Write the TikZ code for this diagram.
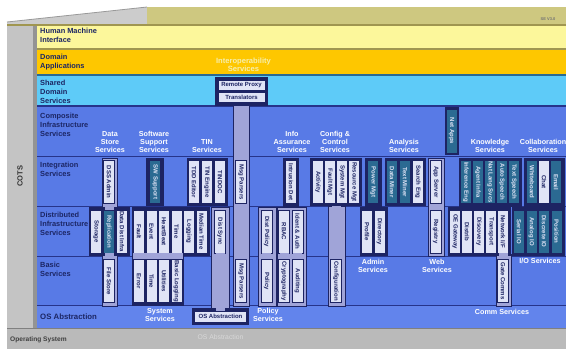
\documentclass[tikz,border=0pt]{standalone}
\usepackage{fontspec}
\setmainfont{Liberation Sans}
\usepackage{tikz}
\usetikzlibrary{positioning}
\definecolor{layerblue}{RGB}{88,122,230}
\definecolor{osblue}{RGB}{98,132,236}
\definecolor{sharedblue}{RGB}{94,203,248}
\definecolor{domgold}{RGB}{254,199,0}
\definecolor{hmiyellow}{RGB}{252,247,155}
\definecolor{roofkhaki}{RGB}{206,200,128}
\definecolor{khakidark}{RGB}{160,150,80}
\definecolor{cotsgray}{RGB}{196,196,196}
\definecolor{osgray}{RGB}{186,186,186}
\definecolor{framenavy}{RGB}{29,36,99}
\definecolor{sepnavy}{RGB}{38,52,138}
\definecolor{slotlight}{RGB}{224,228,246}
\definecolor{slotteal}{RGB}{43,106,146}
\definecolor{spinelav}{RGB}{160,164,216}
\definecolor{labelnavy}{RGB}{28,38,100}
\definecolor{interopyel}{RGB}{246,238,170}
\tikzset{
  laylabel/.style={anchor=north west, inner sep=0, align=left, text=labelnavy,
    font=\fontsize{7.4}{9}\selectfont\bfseries},
  grplabel/.style={inner sep=0, align=center, text=white,
    font=\fontsize{7.2}{8}\selectfont\bfseries},
  grp/.style={rectangle, fill=framenavy, anchor=north west, inner sep=0},
  colgrp/.style={rectangle, fill=spinelav, draw=framenavy, line width=1.2pt,
    anchor=north west, inner sep=0},
  slotbase/.style={rectangle, fill=slotlight, draw=framenavy, line width=0.5pt,
    inner sep=0, text=framenavy, font=\fontsize{6}{6}\selectfont\bfseries},
  slot/.style={slotbase, rotate=-90, minimum width=43, minimum height=11},
  tslot/.style={slot, fill=slotteal, text=slotlight},
  hslot/.style={slotbase, minimum width=47, minimum height=10},
  spine/.style={draw=spinelav, line width=9pt}
}
\begin{document}
\begin{tikzpicture}[x=1pt, y=-1pt]
  \useasboundingbox (0,0) rectangle (569,349);
  % roof
  \fill[black!20] (7,25) -- (7,22) -- (147,7) -- (147,25) -- cycle;
  \fill[roofkhaki] (147,7) rectangle (566,25);
  \draw[black!40, line width=0.8pt] (7,22) -- (147,7);
  \draw[khakidark, line width=1.2pt] (7,25) -- (566,25);
  \node[font=\fontsize{4}{4}\selectfont\bfseries, text=black!55] (version) at (548,19) {SE V3.0};
  % COTS column
  \fill[cotsgray] (7,25.6) rectangle (33,328);
  \fill[black!42] (33,25.6) rectangle (37,328);
  \node[rotate=90, font=\fontsize{7.5}{8}\selectfont\bfseries, text=black!80] (cots) at (20,176) {COTS};
  % layers
  \fill[hmiyellow] (37,25.6) rectangle (566,48);
  \fill[khakidark] (37,48) rectangle (566,50);
  \fill[domgold] (37,50) rectangle (566,74);
  \fill[slotteal] (37,74) rectangle (566,75.5);
  \fill[sharedblue] (37,75.5) rectangle (566,105);
  \fill[sepnavy] (37,105) rectangle (566,107);
  \fill[layerblue] (37,107) rectangle (566,305);
  \fill[osblue] (37,305) rectangle (566,328);
  \foreach \yy in {156.5,206.5,256.5,305.5}
    \draw[sepnavy, line width=1.5pt] (37,\yy) -- (566,\yy);
  % operating system
  \fill[osgray] (7,328) rectangle (566,349);
  \draw[black!50, line width=1pt] (7,328) -- (566,328);
  \node[anchor=north west, inner sep=0, text=black!75, font=\fontsize{6.6}{7}\selectfont\bfseries]
    (oslbl) at (10,336.5) {Operating System};
  \node[anchor=north, inner sep=0, text=black!15, font=\fontsize{6.8}{7}\selectfont]
    (osabslbl) at (220.5,334.5) {OS Abstraction};
  % layer names
  \node[laylabel] (hmi) at (40,28) {Human Machine\\Interface};
  \node[laylabel] (domapps) at (40,53.5) {Domain\\Applications};
  \node[laylabel] (shared) at (40,80) {Shared\\Domain\\Services};
  \node[laylabel] (composite) at (40,112.5) {Composite\\Infrastructure\\Services};
  \node[laylabel] (integ) at (40,162) {Integration\\Services};
  \node[laylabel] (distinfra) at (40,212) {Distributed\\Infrastructure\\Services};
  \node[laylabel] (basic) at (40,262) {Basic\\Services};
  \node[laylabel, font=\fontsize{7.8}{9}\selectfont\bfseries] (osabs0) at (40,313.5) {OS Abstraction};

  % frames
  \node[colgrp, minimum width=15, minimum height=148] (dsscol) at (101.5,158) {};
  \node[grp, minimum width=18, minimum height=48] (swsgrp) at (146,158) {};
  \node[grp, minimum width=41, minimum height=48] (tingrp) at (186.5,158) {};
  \node[colgrp, minimum width=16, minimum height=201] (msgcol) at (233,105) {};
  \node[grp, minimum width=53, minimum height=29] (interop) at (215,77) {};
  \node[grp, minimum width=16, minimum height=49] (iagrp) at (283,158) {};
  \node[grp, minimum width=52, minimum height=48] (ccgrp) at (310,158) {};
  \node[colgrp, minimum width=17, minimum height=100] (cfgcol) at (327.5,206) {};
  \node[grp, minimum width=16.5, minimum height=49] (pmgrp) at (365,158) {};
  \node[grp, minimum width=41, minimum height=48] (angrp) at (384.5,158) {};
  \node[colgrp, minimum width=16.5, minimum height=98] (appcol) at (427.5,158) {};
  \node[grp, minimum width=14, minimum height=48] (netgrp) at (444.5,107) {};
  \node[grp, minimum width=63, minimum height=49] (kngrp) at (458.5,158) {};
  \node[grp, minimum width=41, minimum height=49] (cogrp) at (523.5,158) {};
  \node[grp, minimum width=41, minimum height=49] (dsgrp) at (88.5,207) {};
  \node[grp, minimum width=78, minimum height=49] (ssgrpa) at (131.5,207) {};
  \node[grp, minimum width=52.5, minimum height=52] (ssgrpb) at (131.5,254) {};
  \node[colgrp, minimum width=18, minimum height=102] (dscol) at (211,207) {};
  \node[grp, minimum width=57, minimum height=17] (osbox) at (192,308) {};
  \node[colgrp, minimum width=17.5, minimum height=99] (polcol) at (258,207) {};
  \node[colgrp, minimum width=29, minimum height=99] (idgrp) at (276.5,207) {};
  \node[grp, minimum width=28, minimum height=49] (admgrp) at (359.5,207) {};
  \node[colgrp, minimum width=15, minimum height=52] (cmcol) at (495.5,254) {};
  \node[grp, minimum width=63, minimum height=49] (cmgrp) at (447.5,207) {};
  \node[grp, minimum width=53, minimum height=49] (iogrp) at (511.5,207) {};

  % integration row
  \foreach \nm/\x/\lbl/\sty in {dssadmin/109/{DSS Admin}/slot, swsupport/155/{SW Support}/tslot,
      tdd/194/{TDD Editor}/slot, tineng/207/{TIN Engine}/slot, tindoc/220/TINDOC/slot,
      msga/241/{Msg Parsers}/slot, intrusion/291/{Intrusion Det}/slot,
      activity/318/Activity/slot, faultmgt/330/{Fault Mgt}/slot, sysmgt/342/{System Mgt}/slot,
      resmgt/354/{Resource Mgt}/slot, powermgt/373/{Power Mgt}/tslot,
      dataminer/392/{Data Miner}/tslot, textminer/405/{Text Miner}/tslot, searcheng/418/{Search Eng}/slot,
      appserver/435.75/{App Server}/slot,
      inference/466/{Inference Eng}/tslot, agent/478/{Agent Infra}/tslot, natlang/490/{Nat Lang Svcs}/tslot,
      autospeech/502/{Auto Speech}/tslot, textspeech/514/{Text Speech}/tslot,
      whiteboard/532/Whiteboard/tslot, chat/544/Chat/slot, email/556/Email/tslot}
    \node[\sty] (\nm) at (\x,182) {\lbl};
  \node[tslot, minimum width=44] (netapps) at (451.5,131) {Net Apps};
  % distributed row
  \foreach \nm/\x/\lbl/\sty in {storage/96/Storage/slot, replication/109/Replication/tslot,
      datadist/122/{Data Dist Infra}/slot,
      fault/139/Fault/slot, event/151.5/Event/slot, heartbeat/164/HeartBeat/slot, time/176.5/Time/slot,
      logging/189/Logging/slot, mediantime/201.5/{Median Time}/slot, distsync/220/{Dist Sync}/slot,
      distpolicy/266.75/{Dist Policy}/slot, rbac/284/RBAC/slot, identauth/297.5/{Ident \& Auth}/slot,
      profile/367/Profile/slot, directory/379.5/Directory/slot, registry/435.75/Registry/slot,
      oegate/455/{OE Gateway}/slot, distrib/467/Distrib/slot, discovery/479/Discovery/slot,
      transport/491/Transport/slot, netif/503/{Network I/F}/slot,
      serialio/519/{Serial IO}/tslot, analogio/531.5/{Analog IO}/tslot,
      discreteio/544/{Discrete IO}/tslot, position/556.5/Position/tslot}
    \node[\sty] (\nm) at (\x,231.5) {\lbl};
  % basic row
  \foreach \nm/\x/\lbl in {filestore/109/{File Store}, error/139/Error, time2/151.5/Time,
      utilities/164/Utilities, basiclog/176.5/{Basic Logging}, msgb/241/{Msg Parsers},
      policy/266.75/Policy, crypto/284/Cryptography, auditing/297.5/Auditing,
      configuration/336/Configuration, gatecomms/503/{Gate Comms}}
    \node[slot] (\nm) at (\x,281) {\lbl};
  % interoperability and OS boxes
  \node[hslot] (rproxy) at (241.5,85) {Remote Proxy};
  \node[hslot] (transl) at (241.5,97.5) {Translators};
  \node[hslot, minimum width=52, minimum height=11] (osabs) at (220.5,316.5) {OS Abstraction};

  % spines
  \draw[spine] (dssadmin.east) -- (replication.west);
  \draw[spine] (replication.east) -- (filestore.west);
  \draw[spine] (distpolicy.east) -- (policy.west);
  \draw[spine] (rbac.east) -- (crypto.west);
  \draw[spine] (identauth.east) -- (auditing.west);
  \draw[spine] (appserver.east) -- (registry.west);
  \draw[spine] (netif.east) -- (gatecomms.west);
  \draw[spine] (distsync.east) -- (osabs.north -| distsync);
  \draw[spine] (msga.east) -- (msgb.west);
  \draw[spine] (configuration.west |- ccgrp.south) -- (configuration.west);
  \foreach \a/\b in {fault/error, event/time2, heartbeat/utilities, time/basiclog}
    \draw[spine, line width=12.5pt] (\a.east) -- (\b.west);

  % group names
  \node[grplabel, anchor=south] (dsslbl) at (110,153) {Data\\Store\\Services};
  \node[grplabel, anchor=south] (swslbl) at (154,153) {Software\\Support\\Services};
  \node[grplabel, anchor=south] (tinlbl) at (207,153) {TIN\\Services};
  \node[grplabel, anchor=south] (ialbl) at (292,153) {Info\\Assurance\\Services};
  \node[grplabel, anchor=south] (cclbl) at (335,153) {Config \&\\Control\\Services};
  \node[grplabel, anchor=south] (anlbl) at (404,153) {Analysis\\Services};
  \node[grplabel, anchor=south] (knlbl) at (490,153) {Knowledge\\Services};
  \node[grplabel, anchor=south] (colbl) at (543,153) {Collaboration\\Services};
  \node[grplabel, anchor=north] (admlbl) at (373,259.5) {Admin\\Services};
  \node[grplabel, anchor=north] (weblbl) at (437,259.5) {Web\\Services};
  \node[grplabel, anchor=north] (iolbl) at (540,258.5) {I/O Services};
  \node[grplabel, anchor=north] (syslbl) at (160,308.5) {System\\Services};
  \node[grplabel, anchor=north] (pollbl) at (268,308.5) {Policy\\Services};
  \node[grplabel, anchor=north] (cmlbl) at (502,309) {Comm Services};
  \node[grplabel, anchor=north, text=interopyel, font=\fontsize{7.6}{8}\selectfont\bfseries]
    (interoplbl) at (243.5,57.5) {Interoperability\\Services};
\end{tikzpicture}
\end{document}
